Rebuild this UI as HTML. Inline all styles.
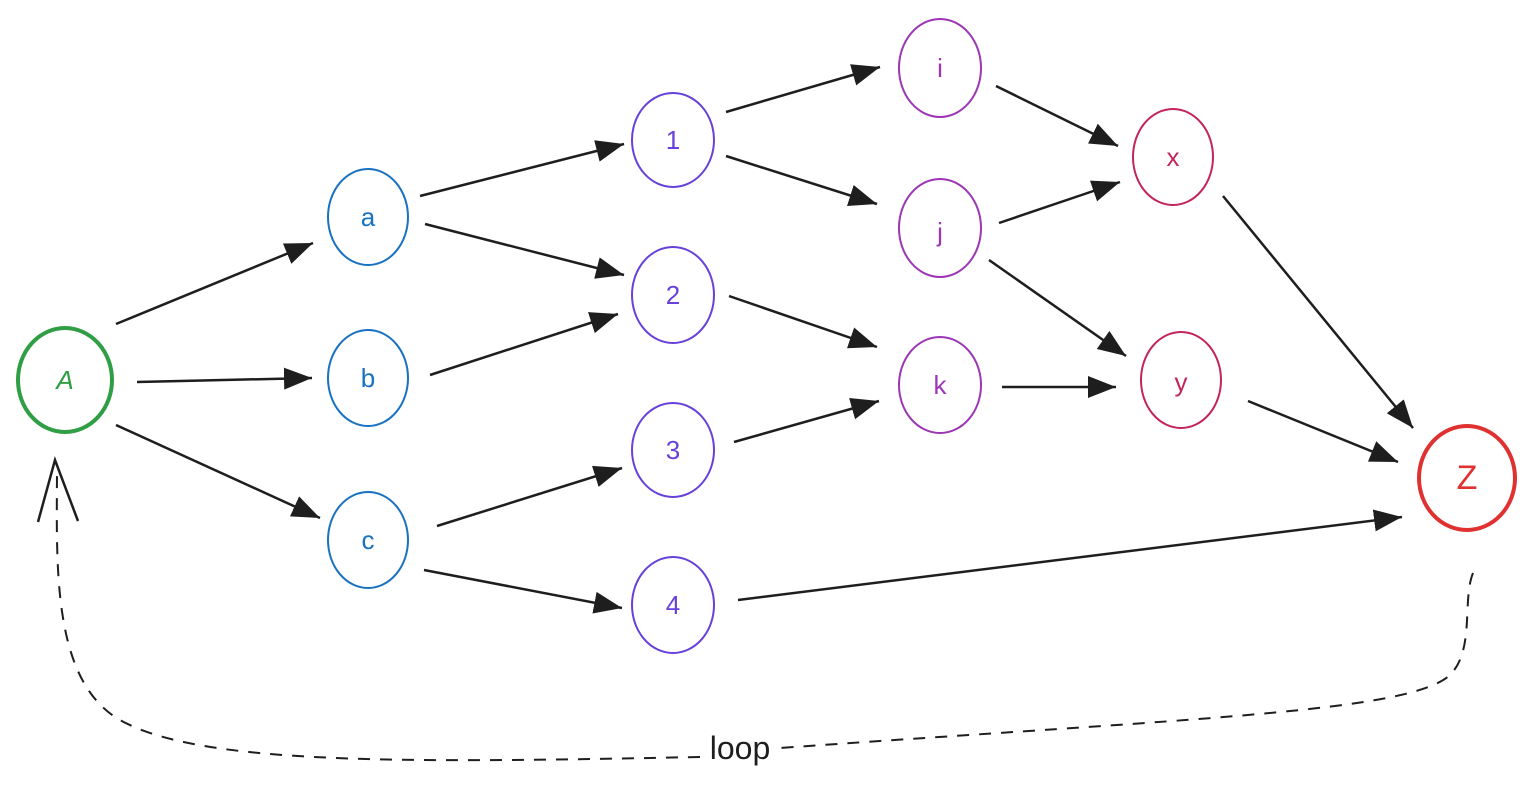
<!DOCTYPE html>
<html><head><meta charset="utf-8"><style>
html,body{margin:0;padding:0;background:#fff;width:1537px;height:792px;overflow:hidden}
svg text{font-family:"Liberation Sans",sans-serif;text-anchor:middle;dominant-baseline:central}
</style></head><body>
<svg width="1537" height="792" viewBox="0 0 1537 792" xmlns="http://www.w3.org/2000/svg">
<defs>
<marker id="ar" markerWidth="10" markerHeight="10" refX="9" refY="5" orient="auto" markerUnits="userSpaceOnUse" viewBox="0 0 10 10">
</marker>
<marker id="m" markerWidth="30" markerHeight="26" refX="28" refY="13" orient="auto" markerUnits="userSpaceOnUse">
<path d="M0,2 L28,13 L0,24 Z" fill="#1e1e1e"/>
</marker>
</defs>
<g fill="none" stroke-width="2">
<ellipse cx="65" cy="380" rx="47" ry="52" stroke="#2f9e44" stroke-width="4"/>
<ellipse cx="368" cy="217" rx="40" ry="48" stroke="#1971c2"/>
<ellipse cx="368" cy="378" rx="40" ry="48" stroke="#1971c2"/>
<ellipse cx="368" cy="540" rx="40" ry="48" stroke="#1971c2"/>
<ellipse cx="673" cy="140" rx="41" ry="47" stroke="#6741d9"/>
<ellipse cx="673" cy="295" rx="41" ry="48" stroke="#6741d9"/>
<ellipse cx="673" cy="450" rx="41" ry="47" stroke="#6741d9"/>
<ellipse cx="673" cy="605" rx="41" ry="48" stroke="#6741d9"/>
<ellipse cx="940" cy="68" rx="41" ry="49" stroke="#9c36b5"/>
<ellipse cx="940" cy="228" rx="41" ry="49" stroke="#9c36b5"/>
<ellipse cx="940" cy="385" rx="41" ry="48" stroke="#9c36b5"/>
<ellipse cx="1173" cy="157" rx="40" ry="48" stroke="#c2255c"/>
<ellipse cx="1181" cy="380" rx="40" ry="48" stroke="#c2255c"/>
<ellipse cx="1467" cy="478" rx="48" ry="52" stroke="#e03131" stroke-width="4"/>
</g>
<g font-size="26">
<text x="65" y="380" fill="#2f9e44" font-style="italic">A</text>
<text x="368" y="217" fill="#1971c2">a</text>
<text x="368" y="378" fill="#1971c2">b</text>
<text x="368" y="540" fill="#1971c2">c</text>
<text x="673" y="140" fill="#6741d9">1</text>
<text x="673" y="295" fill="#6741d9">2</text>
<text x="673" y="450" fill="#6741d9">3</text>
<text x="673" y="605" fill="#6741d9">4</text>
<text x="940" y="68" fill="#9c36b5">i</text>
<text x="940" y="232" fill="#9c36b5">j</text>
<text x="940" y="385" fill="#9c36b5">k</text>
<text x="1173" y="157" fill="#c2255c">x</text>
<text x="1181" y="382" fill="#c2255c">y</text>
<text x="1467" y="478" fill="#e03131" font-size="34">Z</text>
</g>
<g stroke="#1e1e1e" stroke-width="2.5" fill="none" marker-end="url(#m)">
<line x1="116" y1="324" x2="313" y2="243"/>
<line x1="137" y1="382" x2="312" y2="378"/>
<line x1="116" y1="425" x2="320" y2="518"/>
<line x1="420" y1="196" x2="624" y2="144"/>
<line x1="425" y1="224" x2="624" y2="275"/>
<line x1="430" y1="375" x2="618" y2="314"/>
<line x1="437" y1="526" x2="622" y2="468"/>
<line x1="424" y1="570" x2="622" y2="608"/>
<line x1="726" y1="112" x2="880" y2="67"/>
<line x1="726" y1="156" x2="877" y2="204"/>
<line x1="729" y1="296" x2="877" y2="347"/>
<line x1="734" y1="442" x2="879" y2="401"/>
<line x1="738" y1="600" x2="1402" y2="517"/>
<line x1="996" y1="86" x2="1118" y2="146"/>
<line x1="999" y1="223" x2="1120" y2="182"/>
<line x1="989" y1="260" x2="1126" y2="356"/>
<line x1="1002" y1="387" x2="1116" y2="387"/>
<line x1="1223" y1="196" x2="1413" y2="428"/>
<line x1="1248" y1="401" x2="1398" y2="462"/>
</g>
<path d="M1473,573 C1462,600 1475,650 1450,675 C1410,712 1200,718 780,748" fill="none" stroke="#1e1e1e" stroke-width="2" stroke-dasharray="12,10"/>
<path d="M700,757 C400,763 200,765 120,720 C50,680 57,560 57,465" fill="none" stroke="#1e1e1e" stroke-width="2" stroke-dasharray="12,10"/>
<path d="M38,522 L55,460 L78,521" fill="none" stroke="#1e1e1e" stroke-width="2.5"/>
<text x="740" y="748" font-size="32" fill="#1e1e1e">loop</text>
</svg>
</body></html>
